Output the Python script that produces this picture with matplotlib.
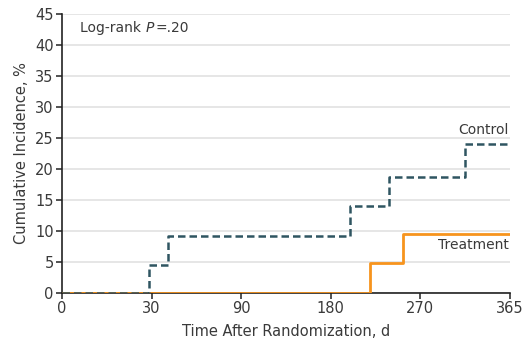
import numpy as np
import matplotlib
matplotlib.use("Agg")
import matplotlib.pyplot as plt
from matplotlib import font_manager

# step times (days) and cumulative incidence (%)
control_t = [0, 29, 41, 199, 239, 317, 365]
control_y = [0, 4.5, 9.2, 14.0, 18.7, 23.9, 23.9]
treatment_t = [0, 220, 253, 365]
treatment_y = [0, 4.7, 9.4, 9.4]

x_ticks = [0, 30, 90, 180, 270, 365]
y_ticks = [0, 5, 10, 15, 20, 25, 30, 35, 40, 45]

CONTROL_COLOR = "#2f5561"
TREAT_COLOR = "#f7941d"
TEXT_COLOR = "#3a3a3a"

names = {f.name for f in font_manager.fontManager.ttflist}
family = "Liberation Sans Narrow" if "Liberation Sans Narrow" in names else "DejaVu Sans"
plt.rcParams["font.family"] = family

# x axis is piecewise linear: tick marks are evenly spaced
knots = np.array(x_ticks, dtype=float)
pos = np.arange(len(knots), dtype=float)


def fwd(x):
    return np.interp(x, knots, pos)


def inv(p):
    return np.interp(p, pos, knots)


fig = plt.figure(figsize=(5.25, 3.43), dpi=100)
ax = fig.add_axes([0.118, 0.147, 0.853, 0.813])
ax.set_xscale("function", functions=(fwd, inv))

ax.step(treatment_t, treatment_y, where="post", color=TREAT_COLOR, lw=2.0,
        zorder=3, solid_capstyle="butt")
ax.step(control_t, control_y, where="post", color=CONTROL_COLOR, lw=1.8,
        ls=(0, (3, 1.6)), zorder=4)

ax.set_xlim(0, 365)
ax.set_ylim(0, 45)
ax.set_xticks(x_ticks)
ax.set_xticklabels([str(t) for t in x_ticks])
ax.set_yticks(y_ticks)
ax.yaxis.grid(True, color="#e2e2e2", lw=1.2)
ax.set_axisbelow(True)

for s in ["top", "right"]:
    ax.spines[s].set_visible(False)
for s in ["left", "bottom"]:
    ax.spines[s].set_color("#222222")
    ax.spines[s].set_linewidth(1.2)

ax.tick_params(axis="both", direction="out", length=4, width=1.1,
               color="#222222", labelsize=10.5, labelcolor=TEXT_COLOR, pad=2)

ax.set_xlabel("Time After Randomization, d", fontsize=10.5, color=TEXT_COLOR, labelpad=6)
ax.set_ylabel("Cumulative Incidence, %", fontsize=10.5, color=TEXT_COLOR, labelpad=4)

# "Log-rank P = .20" with italic P, pieces chained left to right
t1 = ax.text(0.04, 0.95, "Log-rank ", transform=ax.transAxes,
             fontsize=10, color=TEXT_COLOR, va="center", ha="left")
t2 = ax.annotate("P", xy=(1, 0), xycoords=t1, va="bottom", ha="left",
                 fontsize=10, color=TEXT_COLOR, style="italic")
ax.annotate("=.20", xy=(1, 0), xycoords=t2, va="bottom", ha="left",
            fontsize=10, color=TEXT_COLOR, xytext=(1, 0), textcoords="offset points")

ax.text(0.998, 26.2, "Control", transform=ax.get_yaxis_transform(),
        fontsize=10, color=TEXT_COLOR, va="center", ha="right")
ax.text(0.998, 7.7, "Treatment", transform=ax.get_yaxis_transform(),
        fontsize=10, color=TEXT_COLOR, va="center", ha="right")

fig.savefig("out.png", dpi=100)
